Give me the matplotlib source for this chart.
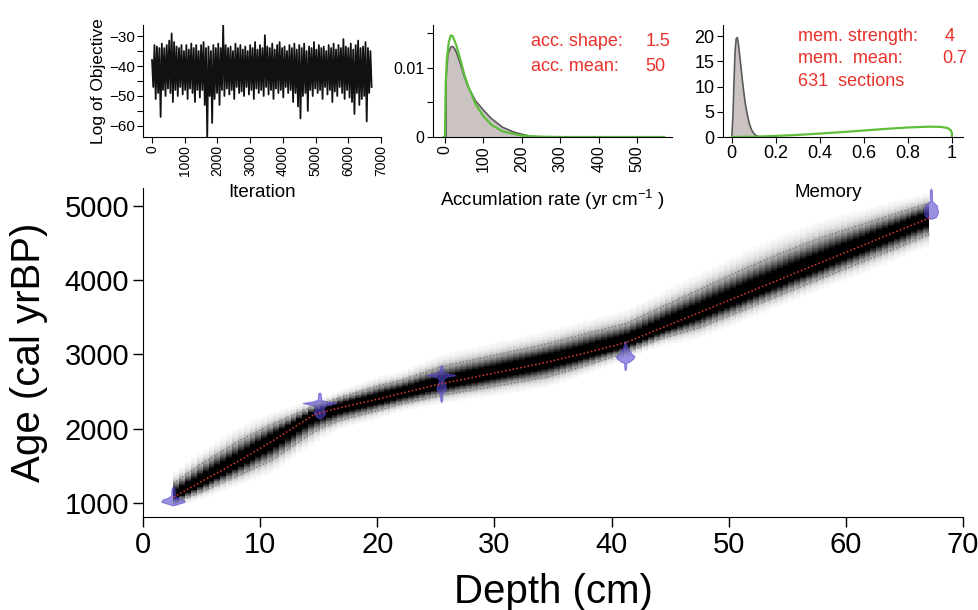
import numpy as np
import matplotlib.pyplot as plt

plt.rcParams['font.family'] = ['Liberation Sans', 'DejaVu Sans']
plt.rcParams['mathtext.fontset'] = 'custom'
plt.rcParams['mathtext.rm'] = 'Liberation Sans'
plt.rcParams['mathtext.it'] = 'Liberation Sans:italic'

# --- MCMC trace: upper / lower swings read every 75 iterations
trace_step = 75
trace_hi = [-38, -33, -33.5, -34, -32.5, -34, -33, -31.5, -29.1, -32,
            -33.5, -34, -33, -35, -33, -34.5, -32.5, -34, -33, -35,
            -33, -32, -34, -33.5, -35, -33, -34, -32.5, -34, -26.3,
            -33, -34, -33.5, -35, -32.5, -34, -33, -34.5, -33.5, -35,
            -33, -34, -32, -34.5, -33, -34, -29.7, -33.5, -34, -32.5,
            -34.5, -33, -32, -34, -33.5, -35, -33, -34, -32.5, -34.5,
            -33, -34, -32.5, -35, -33.5, -34, -32, -34.5, -33, -34,
            -33.5, -35, -33, -34, -32.5, -34.5, -33, -34, -31, -33.5,
            -34, -32.5, -34.5, -33, -31.5, -34, -33.5, -32, -34, -35]
trace_lo = [-47, -51, -49, -57, -48, -50, -47.5, -49, -52, -48,
            -50, -47, -49.5, -48, -51, -47.5, -49, -52, -48, -50.5,
            -48, -53, -63.7, -50, -59, -51, -49, -53, -48, -50,
            -47.5, -49.5, -48, -51, -47, -49, -48.5, -50, -47, -49.5,
            -48, -51, -47.5, -49, -48, -50, -47, -49.5, -48, -51,
            -47.5, -49, -48, -50.5, -47, -49, -48, -52, -49, -53.5,
            -57.5, -50, -49, -55, -48, -50, -47.5, -49, -48, -51,
            -47, -49.5, -48, -52, -48.5, -50, -47, -49, -51, -48,
            -50.5, -52, -56, -49, -53, -51, -50, -58.5, -49, -47]

# --- accumulation rate (yr/cm): prior (green) and posterior (grey)
acc_x = [-3, 0, 2, 5, 10, 15, 20, 30, 40, 50, 60, 80, 100, 120, 150, 200, 250, 300, 400, 570]
acc_prior = [0, 0, 0.0078, 0.0113, 0.0137, 0.0147, 0.0146, 0.0132, 0.0112, 0.0091, 0.0074,
             0.0047, 0.0030, 0.0018, 0.0008, 0.0002, 0.00005, 0, 0, 0]
acc_post_x = [3, 3, 8, 15, 20, 25, 30, 40, 50, 60, 80, 100, 120, 150, 180, 200, 230]
acc_post = [0, 0.0085, 0.0120, 0.0130, 0.0131, 0.0128, 0.0122, 0.0106, 0.0088, 0.0073,
            0.0052, 0.0039, 0.0027, 0.0014, 0.0007, 0.0004, 0]

# --- memory: posterior (grey) and prior (green)
mem_post_x = [0, 0.005, 0.01, 0.015, 0.02, 0.025, 0.03, 0.04, 0.05, 0.06, 0.07, 0.08,
              0.09, 0.1, 0.11, 0.12, 0.14]
mem_post = [0, 4, 11, 17, 19.5, 19.7, 18.5, 14.5, 10.5, 7, 4.5, 2.6, 1.4, 0.7, 0.3, 0.1, 0]
mem_prior_x = [0, 0.1, 0.2, 0.3, 0.4, 0.5, 0.6, 0.7, 0.8, 0.9, 0.95, 0.98, 0.995, 1.0, 1.0]
mem_prior = [0, 0.06, 0.21, 0.42, 0.68, 0.97, 1.29, 1.61, 1.89, 2.05, 2.0, 1.8, 1.3, 0.8, 0]

# --- age-depth model
depth = [2.6, 5, 8.3, 11, 14.5, 15.5, 17, 20.2, 22, 25.5, 30, 34.5, 38, 41.3, 44,
         47.6, 51, 54.4, 58, 62.9, 67.2]
age_mean = [1080, 1290, 1577, 1830, 2181, 2230, 2290, 2405, 2476, 2607, 2750, 2897,
            3030, 3165, 3340, 3573, 3793, 4014, 4247, 4565, 4843]
age_hi = [1264, 1530, 1845, 2060, 2300, 2350, 2430, 2584, 2651, 2839, 2990, 3144,
          3290, 3419, 3620, 3882, 4130, 4360, 4580, 4830, 5044]
age_lo = [1000, 1150, 1380, 1577, 1950, 2030, 2120, 2250, 2330, 2450, 2570, 2695,
          2860, 3031, 3200, 3366, 3580, 3800, 4030, 4340, 4620]

# --- calibrated dates: depth, age profile and half-width (cm)
date_depth = [2.6, 15.1, 25.5, 41.2, 67.3]
date_ages = [[960, 990, 1010, 1040, 1060, 1080, 1100, 1150, 1200, 1210],
             [2130, 2160, 2200, 2250, 2290, 2320, 2340, 2360, 2380, 2470, 2480],
             [2350, 2380, 2470, 2500, 2550, 2600, 2650, 2690, 2715, 2740, 2780, 2840, 2850],
             [2780, 2800, 2880, 2900, 2940, 2970, 3000, 3040, 3080, 3120, 3170, 3180],
             [4820, 4840, 4880, 4920, 4960, 5000, 5030, 5060, 5200, 5230]]
date_width = [[0, 0.6, 1.0, 0.9, 0.5, 0.25, 0.15, 0.15, 0.1, 0],
              [0, 0.3, 0.5, 0.4, 0.3, 0.8, 1.45, 0.6, 0.15, 0.1, 0],
              [0, 0.08, 0.1, 0.3, 0.4, 0.3, 0.15, 0.4, 1.25, 0.4, 0.1, 0.08, 0],
              [0, 0.06, 0.1, 0.4, 0.7, 0.8, 0.55, 0.4, 0.2, 0.1, 0.05, 0],
              [0, 0.4, 0.55, 0.6, 0.55, 0.5, 0.3, 0.1, 0.08, 0]]

red = '#E8312B'
green = '#5DBE3A'

fig = plt.figure(figsize=(9.79, 6.10), dpi=100)


def style(ax, size, ticklen=4):
    for s in ['top', 'right']:
        ax.spines[s].set_visible(False)
    ax.tick_params(direction='out', length=ticklen, width=0.8, labelsize=size, pad=2)


# main panel first, transparent so the small panels' labels stay visible
ax = fig.add_axes([0.1461, 0.1525, 0.8376, 0.5393])
ax.set_facecolor('none')

# panel 1: trace
ax1 = fig.add_axes([0.1461, 0.7754, 0.2431, 0.1836])
n = len(trace_hi)
it = np.arange(n) * trace_step
xs = np.empty(2 * n)
ys = np.empty(2 * n)
xs[0::2] = it
xs[1::2] = it + trace_step / 2
ys[0::2] = trace_hi
ys[1::2] = trace_lo
ax1.plot(xs, ys, color='#111111', lw=1.3)
ax1.set_xlim(-275, 7000)
ax1.set_ylim(-63.7, -26.3)
ax1.set_xticks(range(0, 7001, 1000))
ax1.set_yticks([-30, -40, -50, -60])
ax1.set_yticks([-35, -45, -55], minor=True)
style(ax1, 11)
ax1.tick_params(axis='y', which='minor', length=4, width=0.8)
ax1.tick_params(axis='x', labelrotation=90, labelsize=10)
ax1.set_ylabel('Log of Objective', fontsize=12.5, labelpad=2)
ax1.set_xlabel('Iteration', fontsize=13.5)
ax1.xaxis.set_label_coords(0.5, -0.42)

# panel 2: accumulation rate
ax2 = fig.add_axes([0.4423, 0.7754, 0.2441, 0.1836])
ax2.fill_between(acc_post_x, acc_post, color='#CBC3C1', lw=0)
ax2.plot(acc_post_x, acc_post, color='#5A5A5A', lw=1.2)
ax2.plot(acc_x, acc_prior, color=green, lw=1.6)
ax2.set_xlim(-31, 590)
ax2.set_ylim(0, 0.0162)
ax2.set_xticks(range(0, 501, 100))
ax2.set_yticks([0, 0.005, 0.01, 0.015])
ax2.set_yticklabels(['0', '', '0.01', ''])
style(ax2, 11.5)
ax2.tick_params(axis='x', labelrotation=90)
ax2.set_xlabel('Accumlation rate (yr cm$^{\\mathregular{-1}}$ )', fontsize=13.5)
ax2.xaxis.set_label_coords(0.5, -0.45)
ax2.text(0.41, 0.857, 'acc. shape:', color=red, fontsize=13, transform=ax2.transAxes, va='center')
ax2.text(0.89, 0.857, '1.5', color=red, fontsize=13, transform=ax2.transAxes, va='center')
ax2.text(0.41, 0.634, 'acc. mean:', color=red, fontsize=13, transform=ax2.transAxes, va='center')
ax2.text(0.89, 0.634, '50', color=red, fontsize=13, transform=ax2.transAxes, va='center')

# panel 3: memory
ax3 = fig.add_axes([0.7385, 0.7754, 0.2451, 0.1836])
ax3.fill_between(mem_post_x, mem_post, color='#CBC3C1', lw=0)
ax3.plot(mem_post_x, mem_post, color='#5A5A5A', lw=1.2)
ax3.plot(mem_prior_x, mem_prior, color=green, lw=1.6)
ax3.set_xlim(-0.04, 1.05)
ax3.set_ylim(0, 22.2)
ax3.set_xticks([0, 0.2, 0.4, 0.6, 0.8, 1])
ax3.set_xticklabels(['0', '0.2', '0.4', '0.6', '0.8', '1'])
ax3.set_yticks([0, 5, 10, 15, 20])
style(ax3, 13)
ax3.set_xlabel('Memory', fontsize=13.5)
ax3.xaxis.set_label_coords(0.44, -0.42)
ax3.text(0.3125, 0.893, 'mem. strength:', color=red, fontsize=13, transform=ax3.transAxes, va='center')
ax3.text(0.925, 0.893, '4', color=red, fontsize=13, transform=ax3.transAxes, va='center')
ax3.text(0.3125, 0.705, 'mem.  mean:', color=red, fontsize=13, transform=ax3.transAxes, va='center')
ax3.text(0.915, 0.705, '0.7', color=red, fontsize=13, transform=ax3.transAxes, va='center')
ax3.text(0.3125, 0.50, '631  sections', color=red, fontsize=13, transform=ax3.transAxes, va='center')

# main panel: age-depth model (grey shading from mean and 95% range)
d_edges = np.arange(depth[0], depth[-1] + 0.3, 0.5)
a_edges = np.arange(800, 5300, 10)
dc = (d_edges[:-1] + d_edges[1:]) / 2
ac = (a_edges[:-1] + a_edges[1:]) / 2
m = np.interp(dc, depth, age_mean)
hi = np.interp(dc, depth, age_hi)
lo = np.interp(dc, depth, age_lo)
A = ac[:, None]
sd = np.where(A > m, (hi - m) / 1.7, (m - lo) / 1.7)
dens = np.exp(-0.5 * ((A - m) / sd) ** 2)
shade = np.clip(1.25 * dens, 0, 1)
shade = np.where(shade < 0.02, np.nan, shade)
ax.pcolormesh(d_edges, a_edges, shade, cmap='gray_r', vmin=0, vmax=1, shading='flat',
              rasterized=True)

ax.plot(depth, age_hi, color='#7A7A7A', lw=1, ls=(0, (1, 1.5)))
ax.plot(depth, age_lo, color='#7A7A7A', lw=1, ls=(0, (1, 1.5)))
ax.plot(depth, age_mean, color='#E03A2E', lw=1.1, ls=(0, (1, 1.5)))

for dd, ages, w in zip(date_depth, date_ages, date_width):
    ages = np.array(ages)
    w = np.array(w)
    px = np.concatenate([dd - w, (dd + w)[::-1]])
    py = np.concatenate([ages, ages[::-1]])
    ax.fill(px, py, color='#5548CC', alpha=0.6, lw=0.8, ec='#5548CC')

ax.set_xlim(0, 70)
ax.set_ylim(812, 5242)
ax.set_xticks(range(0, 71, 10))
ax.set_yticks(range(1000, 5001, 1000))
for s in ['top', 'right']:
    ax.spines[s].set_visible(False)
ax.tick_params(direction='out', length=7, width=1, labelsize=21, pad=3)
ax.set_xlabel('Depth (cm)', fontsize=29, labelpad=10)
ax.set_ylabel('Age (cal yrBP)', fontsize=29, labelpad=12)

fig.savefig('out.png', dpi=100)
